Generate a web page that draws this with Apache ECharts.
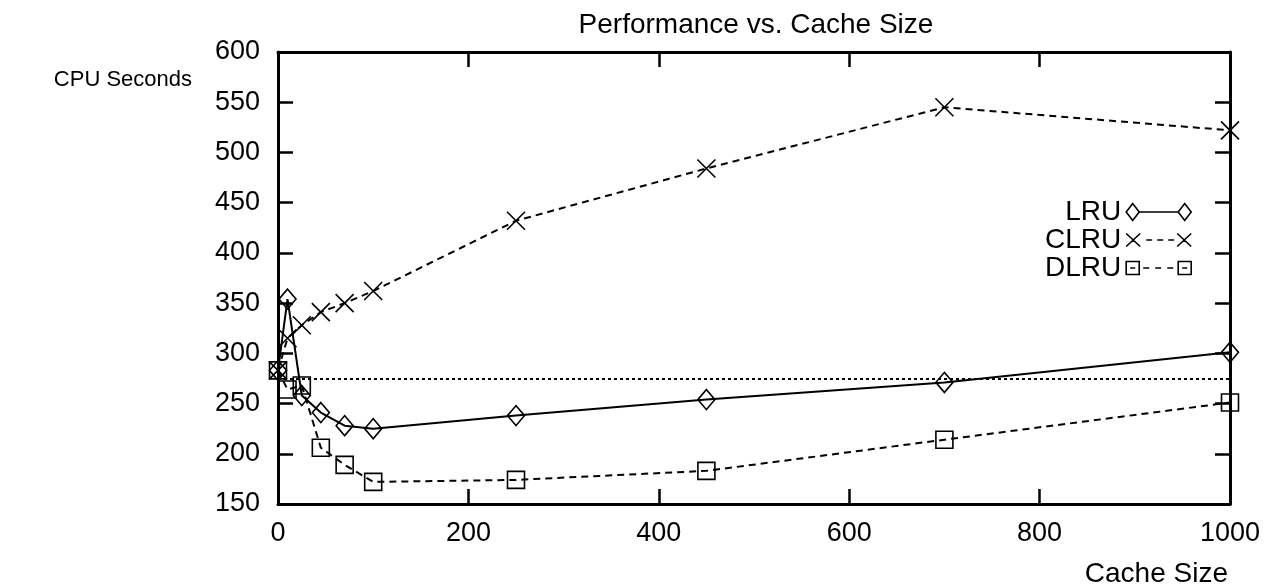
<!DOCTYPE html>
<html>
<head>
<meta charset="utf-8">
<title>Performance vs. Cache Size</title>
<script src="https://cdn.jsdelivr.net/npm/echarts@6/dist/echarts.min.js"></script>
<style>
  html, body { margin: 0; padding: 0; background: #fff; }
  #chart { width: 1266px; height: 588px; }
</style>
</head>
<body>
<div id="chart"></div>
<script>
// values
const cacheSizes = [0, 10, 25, 45, 70, 100, 250, 450, 700, 1000]
const lruSeconds = [283, 354, 258, 241, 228, 225, 238, 254, 271, 301]
const clruSeconds = [283, 315, 328, 341, 350, 362, 432, 484, 545, 522]
const dlruSeconds = [283, 264, 268, 206, 189, 172, 174, 183, 214, 251]
const baselineSeconds = 275
const seriesNames = ['LRU', 'CLRU', 'DLRU']

const font = "'Liberation Sans', Arial, sans-serif"
const black = '#000'

function pairs(ys) {
  return cacheSizes.map((x, i) => [x, ys[i]])
}

// legend samples: marker, line, marker (like the gnuplot key)
const legendIcons = {
  LRU: 'path://M0 8.5L6.5 0L13 8.5L6.5 17ZM13 8.5L52 8.5M52 8.5L58.5 0L65 8.5L58.5 17Z',
  CLRU: 'path://M0 0M65 17M0 2L14 15M0 15L14 2M20 8.5L26 8.5M31 8.5L37 8.5M42 8.5L48 8.5M51 2L65 15M51 15L65 2',
  DLRU: 'path://M0 0M65 17M0 2L13 2L13 15L0 15ZM4 8.5L9 8.5M17 8.5L23 8.5M29 8.5L35 8.5M41 8.5L47 8.5M52 2L65 2L65 15L52 15ZM56 8.5L61 8.5'
}

const markerStyle = {
  color: 'transparent',
  borderColor: black,
  borderWidth: 1.6
}

const chart = echarts.init(document.getElementById('chart'))

const frameAxis = {
  type: 'value',
  axisLine: { show: true, onZero: false, lineStyle: { color: black, width: 3 } },
  axisTick: { show: true, inside: true, length: 15, lineStyle: { color: black, width: 2.5 } },
  splitLine: { show: false }
}

chart.setOption({
  animation: false,
  backgroundColor: '#fff',
  title: {
    text: 'Performance vs. Cache Size',
    left: 756,
    top: 11,
    padding: 0,
    textAlign: 'center',
    textStyle: { fontFamily: font, fontSize: 28, fontWeight: 'normal', color: black }
  },
  grid: {
    left: 278,
    right: 36,
    top: 52,
    bottom: 84
  },
  legend: {
    orient: 'vertical',
    align: 'right',
    right: 74,
    top: 198,
    padding: 0,
    itemWidth: 65,
    itemHeight: 17,
    itemGap: 0,
    selectedMode: false,
    itemStyle: { color: 'transparent', borderColor: black, borderWidth: 1.6 },
    textStyle: { fontFamily: font, fontSize: 28, color: black },
    data: seriesNames.map(name => ({ name: name, icon: legendIcons[name] }))
  },
  graphic: [
    {
      type: 'text',
      x: 192,
      y: 80,
      style: {
        text: 'CPU Seconds',
        font: '22px ' + font,
        fill: black,
        align: 'right',
        verticalAlign: 'middle'
      }
    },
    {
      type: 'text',
      x: 1228,
      y: 574,
      style: {
        text: 'Cache Size',
        font: '28px ' + font,
        fill: black,
        align: 'right',
        verticalAlign: 'middle'
      }
    }
  ],
  xAxis: [
    Object.assign({}, frameAxis, {
      position: 'bottom',
      min: 0,
      max: 1000,
      interval: 200,
      axisLabel: { fontFamily: font, fontSize: 27, color: black, margin: 16, formatter: v => String(v) }
    }),
    Object.assign({}, frameAxis, {
      position: 'top',
      min: 0,
      max: 1000,
      interval: 200,
      axisLabel: { show: false }
    })
  ],
  yAxis: [
    Object.assign({}, frameAxis, {
      position: 'left',
      min: 150,
      max: 600,
      interval: 50,
      axisLabel: { fontFamily: font, fontSize: 27, color: black, margin: 18 }
    }),
    Object.assign({}, frameAxis, {
      position: 'right',
      min: 150,
      max: 600,
      interval: 50,
      axisLabel: { show: false }
    })
  ],
  series: [
    {
      name: 'LRU',
      type: 'line',
      data: pairs(lruSeconds),
      symbol: 'diamond',
      symbolSize: [17, 20],
      lineStyle: { color: black, width: 2 },
      itemStyle: markerStyle,
      markLine: {
        silent: true,
        symbol: ['none', 'none'],
        label: { show: false },
        lineStyle: { color: black, width: 2, type: [3, 3] },
        data: [{ yAxis: baselineSeconds }]
      }
    },
    {
      name: 'CLRU',
      type: 'line',
      data: pairs(clruSeconds),
      symbol: 'path://M0 0L10 10M0 10L10 0',
      symbolSize: 18,
      lineStyle: { color: black, width: 2, type: [7, 5] },
      itemStyle: markerStyle
    },
    {
      name: 'DLRU',
      type: 'line',
      data: pairs(dlruSeconds),
      symbol: 'rect',
      symbolSize: 17,
      lineStyle: { color: black, width: 2, type: [7, 5] },
      itemStyle: markerStyle
    }
  ]
})
</script>
</body>
</html>
